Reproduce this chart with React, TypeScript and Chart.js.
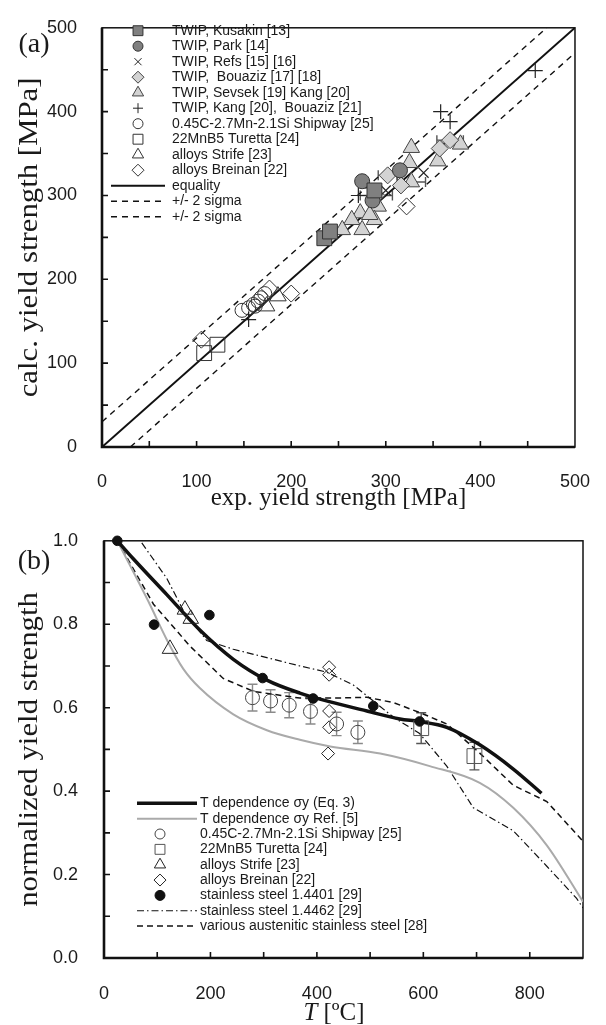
import React, { useEffect, useRef } from 'react';
import { Chart, registerables } from 'chart.js';
import { drawPoint } from 'chart.js/helpers';

Chart.register(...registerables);

const SERIF = "'Liberation Serif', 'Times New Roman', serif";
const SANS = "'Liberation Sans', Arial, Helvetica, sans-serif";
const INK = '#1a1a1a';

// ---------------- Panel (a): calc. vs exp. yield strength [MPa] ----------------
const kusakinExp = [235, 241, 288];
const kusakinCalc = [249, 257, 306];
const parkExp = [275, 315, 286];
const parkCalc = [317, 330, 294];
const refsExp = [300, 340];
const refsCalc = [306, 327];
const bouazizExp = [302, 290, 357, 368, 316];
const bouazizCalc = [324, 300, 356, 366, 312];
const bouazizErr = [10, 17, 0, 14, 0];
const sevsekExp = [327, 325, 355, 379, 327, 292, 273, 264, 254, 275, 288, 283];
const sevsekCalc = [357, 339, 341, 361, 316, 287, 279, 271, 259, 259, 271, 277];
const sevsekErr = [0, 0, 0, 0, 15, 0, 0, 0, 0, 0, 0, 0];
const kangExp = [358, 368, 458, 271, 155];
const kangCalc = [400, 388, 449, 300, 152];
const shipwayExpA = [148, 155, 160, 165, 168, 172, 162];
const shipwayCalcA = [163, 166, 170, 174, 178, 183, 168];
const turettaExpA = [108, 122];
const turettaCalcA = [112, 122];
const strifeExpA = [174, 186];
const strifeCalcA = [168, 180];
const breinanExpA = [105, 177, 200, 322];
const breinanCalcA = [128, 189, 183, 287];
const equalityX = [0, 500];
const equalityY = [0, 500];
const sigmaUpperX = [0, 470];
const sigmaUpperY = [30, 500];
const sigmaLowerX = [30, 500];
const sigmaLowerY = [0, 470];
const ticksA = [0, 100, 200, 300, 400, 500];
const legendTextA = [
  'TWIP, Kusakin [13]',
  'TWIP, Park [14]',
  'TWIP, Refs [15] [16]',
  'TWIP,  Bouaziz [17] [18]',
  'TWIP, Sevsek [19] Kang [20]',
  'TWIP, Kang [20],  Bouaziz [21]',
  '0.45C-2.7Mn-2.1Si Shipway [25]',
  '22MnB5 Turetta [24]',
  'alloys Strife [23]',
  'alloys Breinan [22]',
  'equality',
  '+/- 2 sigma',
  '+/- 2 sigma',
];

// ---------------- Panel (b): normalized yield strength vs T ----------------
const eq3T = [25, 55, 118, 180, 243, 306, 368, 431, 494, 556, 592, 644, 706, 769, 822];
const eq3Y = [1.0, 0.957, 0.871, 0.786, 0.716, 0.666, 0.635, 0.612, 0.592, 0.573, 0.567, 0.553, 0.511, 0.453, 0.395];
const ref5T = [25, 86, 118, 149, 180, 243, 306, 368, 425, 519, 612, 706, 769, 832, 900];
const ref5Y = [1.0, 0.848, 0.763, 0.693, 0.647, 0.584, 0.546, 0.523, 0.507, 0.49, 0.46, 0.42, 0.36, 0.27, 0.135];
const austT = [25, 93, 162, 224, 281, 368, 431, 494, 544, 594, 644, 706, 769, 832, 900];
const austY = [1.0, 0.848, 0.747, 0.67, 0.639, 0.623, 0.623, 0.625, 0.612, 0.588, 0.561, 0.491, 0.414, 0.375, 0.28];
const ss4462T = [71, 118, 149, 193, 243, 306, 368, 419, 469, 544, 593, 644, 694, 769, 832, 888, 900];
const ss4462Y = [0.995, 0.91, 0.833, 0.761, 0.74, 0.72, 0.7, 0.685, 0.654, 0.577, 0.538, 0.46, 0.36, 0.305, 0.22, 0.143, 0.12];
const shipwayT = [279, 313, 348, 388, 437, 477];
const shipwayY = [0.624, 0.616, 0.606, 0.591, 0.561, 0.541];
const shipwayErr = [0.032, 0.027, 0.03, 0.03, 0.028, 0.027];
const turettaT = [596, 696];
const turettaY = [0.551, 0.484];
const turettaErr = [0.037, 0.033];
const strifeT = [152, 163, 124];
const strifeY = [0.835, 0.813, 0.741];
const breinanT = [423, 423, 423, 423, 421];
const breinanY = [0.697, 0.679, 0.592, 0.553, 0.49];
const ss4401T = [25, 94, 198, 298, 393, 506, 593];
const ss4401Y = [1.0, 0.799, 0.822, 0.671, 0.622, 0.604, 0.567];
const ticksBX = [0, 200, 400, 600, 800];
const ticksBY = [0, 0.2, 0.4, 0.6, 0.8, 1.0];
const legendTextB = [
  'T dependence σy (Eq. 3)',
  'T dependence σy Ref. [5]',
  '0.45C-2.7Mn-2.1Si Shipway [25]',
  '22MnB5 Turetta [24]',
  'alloys Strife [23]',
  'alloys Breinan [22]',
  'stainless steel 1.4401 [29]',
  'stainless steel 1.4462 [29]',
  'various austenitic stainless steel [28]',
];

const pts = (xs: number[], ys: number[]) => xs.map((x, i) => ({ x, y: ys[i] }));

// ---------------- plugins ----------------
function framePlugin(tickLen: number) {
  return {
    id: 'frameAndBars',
    beforeDatasetsDraw(chart: any) {
      const { ctx, chartArea: a, scales } = chart;
      ctx.save();
      ctx.strokeStyle = '#111';
      ctx.lineWidth = 1.5;
      ctx.strokeRect(a.left, a.top, a.right - a.left, a.bottom - a.top);
      ctx.lineWidth = 2.6;
      ctx.beginPath();
      ctx.moveTo(a.left, a.top);
      ctx.lineTo(a.left, a.bottom);
      ctx.lineTo(a.right, a.bottom);
      ctx.stroke();
      ctx.lineWidth = 1.6;
      ctx.beginPath();
      scales.x.ticks.forEach((t: any) => {
        const p = scales.x.getPixelForValue(t.value);
        if (p > a.left + 2 && p < a.right - 2) {
          ctx.moveTo(p, a.bottom);
          ctx.lineTo(p, a.bottom - tickLen);
        }
      });
      scales.y.ticks.forEach((t: any) => {
        const p = scales.y.getPixelForValue(t.value);
        if (p > a.top + 2 && p < a.bottom - 2) {
          ctx.moveTo(a.left, p);
          ctx.lineTo(a.left + tickLen, p);
        }
      });
      ctx.stroke();
      // error bars
      chart.data.datasets.forEach((ds: any, i: number) => {
        if (!ds.errX && !ds.errY) return;
        const meta = chart.getDatasetMeta(i);
        ctx.strokeStyle = ds.errColor || '#333';
        ctx.lineWidth = 1.4;
        ctx.beginPath();
        ds.data.forEach((d: any, j: number) => {
          const el = meta.data[j];
          if (!el) return;
          if (ds.errY && ds.errY[j]) {
            const y0 = scales.y.getPixelForValue(d.y - ds.errY[j]);
            const y1 = scales.y.getPixelForValue(d.y + ds.errY[j]);
            ctx.moveTo(el.x, y0); ctx.lineTo(el.x, y1);
            ctx.moveTo(el.x - 5, y0); ctx.lineTo(el.x + 5, y0);
            ctx.moveTo(el.x - 5, y1); ctx.lineTo(el.x + 5, y1);
          }
          if (ds.errX && ds.errX[j]) {
            const x0 = scales.x.getPixelForValue(d.x - ds.errX[j]);
            const x1 = scales.x.getPixelForValue(d.x + ds.errX[j]);
            ctx.moveTo(x0, el.y); ctx.lineTo(x1, el.y);
            ctx.moveTo(x0, el.y - 5); ctx.lineTo(x0, el.y + 5);
            ctx.moveTo(x1, el.y - 5); ctx.lineTo(x1, el.y + 5);
          }
        });
        ctx.stroke();
      });
      ctx.restore();
    },
  };
}

type LegendItem = { ds: number; text: string; r?: number };
function legendPlugin(items: LegendItem[], cfg: any) {
  return {
    id: 'boxLegend',
    afterDraw(chart: any) {
      const ctx = chart.ctx;
      ctx.save();
      items.forEach((it, i) => {
        const ds: any = chart.data.datasets[it.ds];
        const y = cfg.y0 + i * cfg.dy;
        if (ds.showLine) {
          ctx.strokeStyle = ds.borderColor;
          ctx.lineWidth = ds.borderWidth;
          ctx.setLineDash(ds.borderDash || []);
          ctx.beginPath();
          ctx.moveTo(cfg.lineX0, y);
          ctx.lineTo(cfg.lineX1, y);
          ctx.stroke();
          ctx.setLineDash([]);
        } else {
          ctx.fillStyle = ds.backgroundColor;
          ctx.strokeStyle = ds.borderColor;
          ctx.lineWidth = 1;
          drawPoint(ctx, { pointStyle: ds.pointStyle, radius: it.r || 5, borderWidth: 1, rotation: 0 } as any, cfg.markerX, y);
        }
        ctx.fillStyle = INK;
        ctx.font = `${cfg.size}px ${SANS}`;
        ctx.textAlign = 'left';
        ctx.textBaseline = 'middle';
        ctx.fillText(it.text, cfg.textX, y);
      });
      ctx.restore();
    },
  };
}

// panel letter and the vertical axis title
function labelPlugin(text: string, x: number, y: number, yTitle: string, extra?: (chart: any) => void) {
  return {
    id: 'panelLabel',
    afterDraw(chart: any) {
      const ctx = chart.ctx;
      const a = chart.chartArea;
      ctx.save();
      ctx.fillStyle = INK;
      ctx.font = `28px ${SERIF}`;
      ctx.textAlign = 'center';
      ctx.textBaseline = 'middle';
      ctx.fillText(text, x, y);
      ctx.save();
      ctx.translate(30, (a.top + a.bottom) / 2);
      ctx.rotate(-Math.PI / 2);
      ctx.scale(1.1, 1);
      ctx.font = `28px ${SERIF}`;
      ctx.fillText(yTitle, 0, 0);
      ctx.restore();
      if (extra) extra(chart);
      ctx.restore();
    },
  };
}

const tickFont = { family: SANS, size: 18 };
const titleFont = { family: SERIF, size: 25, lineHeight: 1 };

// ---------------- chart configs ----------------
function configA(): any {
  const dark = '#808080';
  const light = '#d3d3d3';
  const datasets: any[] = [
    { label: legendTextA[0], data: pts(kusakinExp, kusakinCalc), pointStyle: 'rect', pointRadius: 10.5, backgroundColor: dark, borderColor: '#333', borderWidth: 1 },
    { label: legendTextA[1], data: pts(parkExp, parkCalc), pointStyle: 'circle', pointRadius: 7.5, backgroundColor: dark, borderColor: '#333', borderWidth: 1 },
    { label: legendTextA[2], data: pts(refsExp, refsCalc), pointStyle: 'crossRot', pointRadius: 7, backgroundColor: '#222', borderColor: '#222', borderWidth: 1.2 },
    { label: legendTextA[3], data: pts(bouazizExp, bouazizCalc), errX: bouazizErr, errColor: '#555', pointStyle: 'rectRot', pointRadius: 8.5, backgroundColor: light, borderColor: '#444', borderWidth: 1 },
    { label: legendTextA[4], data: pts(sevsekExp, sevsekCalc), errX: sevsekErr, errColor: '#555', pointStyle: 'triangle', pointRadius: 9.5, backgroundColor: light, borderColor: '#444', borderWidth: 1 },
    { label: legendTextA[5], data: pts(kangExp, kangCalc), pointStyle: 'cross', pointRadius: 7.5, backgroundColor: '#222', borderColor: '#222', borderWidth: 1.2 },
    { label: legendTextA[6], data: pts(shipwayExpA, shipwayCalcA), pointStyle: 'circle', pointRadius: 7, backgroundColor: 'rgba(0,0,0,0)', borderColor: '#333', borderWidth: 1 },
    { label: legendTextA[7], data: pts(turettaExpA, turettaCalcA), pointStyle: 'rect', pointRadius: 10.5, backgroundColor: 'rgba(0,0,0,0)', borderColor: '#333', borderWidth: 1 },
    { label: legendTextA[8], data: pts(strifeExpA, strifeCalcA), pointStyle: 'triangle', pointRadius: 9.5, backgroundColor: 'rgba(0,0,0,0)', borderColor: '#333', borderWidth: 1 },
    { label: legendTextA[9], data: pts(breinanExpA, breinanCalcA), pointStyle: 'rectRot', pointRadius: 8.5, backgroundColor: 'rgba(0,0,0,0)', borderColor: '#333', borderWidth: 1 },
    { label: legendTextA[10], data: pts(equalityX, equalityY), showLine: true, pointRadius: 0, borderColor: '#111', borderWidth: 2, backgroundColor: '#111' },
    { label: legendTextA[11], data: pts(sigmaUpperX, sigmaUpperY), showLine: true, pointRadius: 0, borderColor: '#111', borderWidth: 1.4, borderDash: [6, 5], backgroundColor: '#111' },
    { label: legendTextA[12], data: pts(sigmaLowerX, sigmaLowerY), showLine: true, pointRadius: 0, borderColor: '#111', borderWidth: 1.4, borderDash: [6, 5], backgroundColor: '#111' },
  ];
  datasets.forEach((d) => { if (!d.showLine) d.clip = false; });
  const legendItems: LegendItem[] = datasets.map((d, i) => ({
    ds: i,
    text: d.label,
    r: d.pointStyle === 'rect' ? 7 : d.pointStyle === 'triangle' ? 6.5 : d.pointStyle === 'rectRot' ? 6 : 5,
  }));
  return {
    type: 'scatter',
    data: { datasets },
    options: {
      responsive: false,
      animation: false,
      events: [],
      layout: { padding: { top: 19, right: 25, left: 0, bottom: 0 } },
      plugins: { legend: { display: false }, tooltip: { enabled: false } },
      scales: {
        x: {
          type: 'linear', min: 0, max: 500,
          grid: { display: false }, border: { display: false },
          ticks: {
            stepSize: 50, autoSkip: false, maxRotation: 0, padding: 16, color: INK, font: tickFont,
            callback: (v: number) => (ticksA.includes(v) ? String(v) : ''),
          },
          title: { display: true, text: 'exp. yield strength [MPa]', color: INK, font: titleFont, padding: { top: 0, bottom: 1.5 } },
          afterFit: (s: any) => { s.height = 65; },
        },
        y: {
          type: 'linear', min: 0, max: 500,
          grid: { display: false }, border: { display: false },
          ticks: {
            stepSize: 50, autoSkip: false, padding: 17, color: INK, font: tickFont,
            callback: (v: number) => (ticksA.includes(v) ? String(v) : ''),
          },
          title: { display: false, text: 'calc. yield strength [MPa]' },
          afterFit: (s: any) => { s.width = 102; },
        },
      },
    },
    plugins: [
      framePlugin(6),
      legendPlugin(legendItems, { y0: 30.7, dy: 15.5, lineX0: 111, lineX1: 165, markerX: 138, textX: 172, size: 14 }),
      labelPlugin('(a)', 34, 45, 'calc. yield strength [MPa]'),
    ],
  };
}

function configB(): any {
  const none = 'rgba(0,0,0,0)';
  const datasets: any[] = [
    { label: legendTextB[0], data: pts(eq3T, eq3Y), showLine: true, pointRadius: 0, borderColor: '#111', borderWidth: 3.5, cubicInterpolationMode: 'monotone', backgroundColor: '#111' },
    { label: legendTextB[1], data: pts(ref5T, ref5Y), showLine: true, pointRadius: 0, borderColor: '#aaaaaa', borderWidth: 2, cubicInterpolationMode: 'monotone', backgroundColor: '#aaa' },
    { label: legendTextB[2], data: pts(shipwayT, shipwayY), errY: shipwayErr, errColor: '#8a8a8a', pointStyle: 'circle', pointRadius: 7, backgroundColor: none, borderColor: '#444', borderWidth: 1, clip: false },
    { label: legendTextB[3], data: pts(turettaT, turettaY), errY: turettaErr, errColor: '#555', pointStyle: 'rect', pointRadius: 10.5, backgroundColor: none, borderColor: '#555', borderWidth: 1, clip: false },
    { label: legendTextB[4], data: pts(strifeT, strifeY), pointStyle: 'triangle', pointRadius: 9, backgroundColor: none, borderColor: '#222', borderWidth: 1, clip: false },
    { label: legendTextB[5], data: pts(breinanT, breinanY), pointStyle: 'rectRot', pointRadius: 6.5, backgroundColor: none, borderColor: '#222', borderWidth: 1, clip: false },
    { label: legendTextB[6], data: pts(ss4401T, ss4401Y), pointStyle: 'circle', pointRadius: 4.8, backgroundColor: '#111', borderColor: '#111', borderWidth: 1, clip: false },
    { label: legendTextB[7], data: pts(ss4462T, ss4462Y), showLine: true, pointRadius: 0, borderColor: '#111', borderWidth: 1.2, borderDash: [7, 3, 1.5, 3], backgroundColor: '#111' },
    { label: legendTextB[8], data: pts(austT, austY), showLine: true, pointRadius: 0, borderColor: '#111', borderWidth: 1.5, borderDash: [6, 4], backgroundColor: '#111' },
  ];
  // draw order: filled dots on top, lines below
  const orders = [3, 4, 2, 2, 2, 2, 0, 5, 5];
  datasets.forEach((d, i) => { d.order = orders[i]; });
  const legendItems: LegendItem[] = datasets.map((d, i) => ({
    ds: i,
    text: d.label,
    r: d.pointStyle === 'rect' ? 7 : d.pointStyle === 'triangle' ? 6.5 : d.pointStyle === 'rectRot' ? 6 : 5,
  }));
  const drawT = (chart: any) => {
    const ctx = chart.ctx;
    const y = 501;
    const cx = 334;
    ctx.font = `italic 25px ${SERIF}`;
    const w1 = ctx.measureText('T').width;
    ctx.font = `25px ${SERIF}`;
    const w2 = ctx.measureText(' [ºC]').width;
    let x = cx - (w1 + w2) / 2;
    ctx.textAlign = 'left';
    ctx.textBaseline = 'middle';
    ctx.fillStyle = INK;
    ctx.font = `italic 25px ${SERIF}`;
    ctx.fillText('T', x, y);
    x += w1;
    ctx.font = `25px ${SERIF}`;
    ctx.fillText(' [ºC]', x, y);
  };
  return {
    type: 'scatter',
    data: { datasets },
    options: {
      responsive: false,
      animation: false,
      events: [],
      layout: { padding: { top: 16, right: 23, left: 0, bottom: 0 } },
      plugins: { legend: { display: false }, tooltip: { enabled: false } },
      scales: {
        x: {
          type: 'linear', min: 0, max: 900,
          grid: { display: false }, border: { display: false },
          ticks: {
            stepSize: 100, autoSkip: false, maxRotation: 0, padding: 17, color: INK, font: tickFont,
            callback: (v: number) => (ticksBX.includes(v) ? String(v) : ''),
          },
          title: { display: false },
          afterFit: (s: any) => { s.height = 67; },
        },
        y: {
          type: 'linear', min: 0, max: 1,
          grid: { display: false }, border: { display: false },
          ticks: {
            stepSize: 0.1, autoSkip: false, padding: 18, color: INK, font: tickFont,
            callback: (v: number) => (ticksBY.some((t) => Math.abs(t - v) < 1e-6) ? v.toFixed(1) : ''),
          },
          title: { display: false, text: 'normalized yield strength' },
          afterFit: (s: any) => { s.width = 104; },
        },
      },
    },
    plugins: [
      framePlugin(6),
      legendPlugin(legendItems, { y0: 291.3, dy: 15.35, lineX0: 137, lineX1: 197, markerX: 160, textX: 200, size: 14 }),
      labelPlugin('(b)', 34, 50, 'normalized yield strength', drawT),
    ],
  };
}

function ChartCanvas({ make, top, height }: { make: () => any; top: number; height: number }) {
  const ref = useRef<HTMLCanvasElement>(null);
  useEffect(() => {
    if (!ref.current) return;
    const chart = new Chart(ref.current, make());
    return () => chart.destroy();
  }, []);
  return (
    <canvas
      ref={ref}
      width={606}
      height={height}
      style={{ position: 'absolute', left: 0, top, width: 606, height }}
    />
  );
}

export default function App() {
  return (
    <div style={{ position: 'absolute', left: 0, top: 0, width: 606, height: 1025, background: '#fff', overflow: 'hidden' }}>
      <ChartCanvas make={configA} top={0} height={512} />
      <ChartCanvas make={configB} top={512} height={513} />
    </div>
  );
}
